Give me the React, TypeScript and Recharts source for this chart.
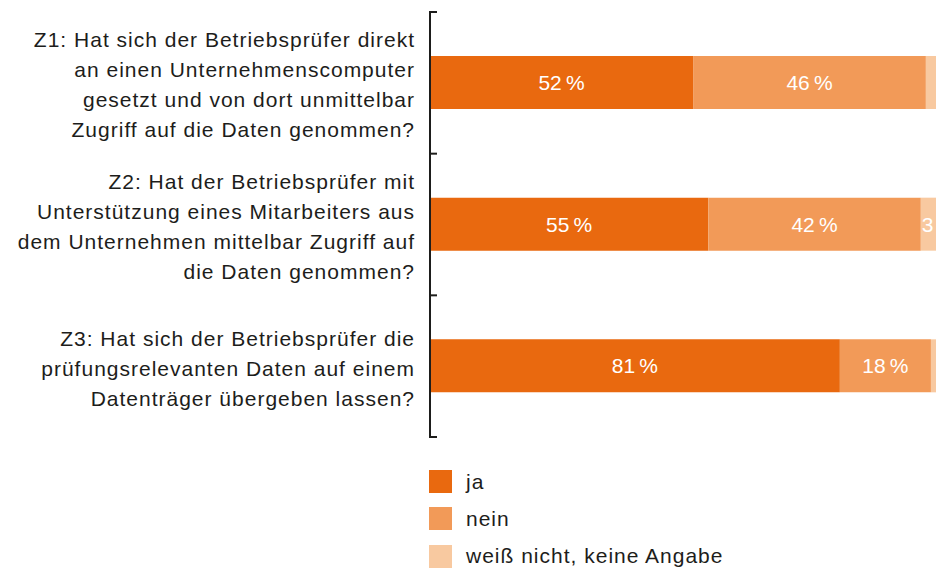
import { BarChart, Bar, XAxis, YAxis, Legend, LabelList } from "recharts";

const questions = [
  "Z1: Hat sich der Betriebsprüfer direkt\nan einen Unternehmenscomputer\ngesetzt und von dort unmittelbar\nZugriff auf die Daten genommen?",
  "Z2: Hat der Betriebsprüfer mit\nUnterstützung eines Mitarbeiters aus\ndem Unternehmen mittelbar Zugriff auf\ndie Daten genommen?",
  "Z3: Hat sich der Betriebsprüfer die\nprüfungsrelevanten Daten auf einem\nDatenträger übergeben lassen?",
];
const ja = [52, 55, 81];
const nein = [46, 42, 18];
const weissNicht = [2, 3, 1];

const seriesNames = ["ja", "nein", "weiß nicht, keine Angabe"];
const colors = ["#E9690F", "#F29A58", "#F8C9A0"];

const data = questions.map((q, i) => ({
  q,
  ja: ja[i],
  nein: nein[i],
  wn: weissNicht[i],
}));

const FONT = '"Liberation Sans", Arial, sans-serif';
const TEXT = "#1d1d1b";
const FS = 21;
const LS = 1;

const QuestionTick = (props: any) => {
  const { x, y, payload, index, visibleTicksCount } = props;
  const lines = String(payload.value).split("\n");
  const half = payload.offset || 71;
  const ax = x + 15;
  const top = y + 2 - ((lines.length - 1) * 30) / 2;
  return (
    <g>
      <text x={x} y={top} textAnchor="end" fontSize={FS} letterSpacing={LS} fill={TEXT} fontFamily={FONT}>
        {lines.map((l, i) => (
          <tspan key={i} x={x} y={top + i * 30} dy="0.36em">
            {l}
          </tspan>
        ))}
      </text>
      <line x1={ax - 1} x2={ax + 7} y1={y - half} y2={y - half} stroke={TEXT} strokeWidth={2} />
      {index === visibleTicksCount - 1 && (
        <line x1={ax - 1} x2={ax + 7} y1={y + half} y2={y + half} stroke={TEXT} strokeWidth={2} />
      )}
    </g>
  );
};

const pct = (v: any) => `${v}\u202F%`;

const SmallLabel = (props: any) => {
  const { x, y, height, value } = props;
  if (value < 3) return null;
  return (
    <text x={x + 1} y={y + height / 2} dy="0.36em" fill="#fff" fontSize={FS} letterSpacing={LS} fontFamily={FONT}>
      {pct(value)}
    </text>
  );
};

const renderLegend = () => (
  <div style={{ fontFamily: FONT, fontSize: FS, letterSpacing: LS, color: TEXT }}>
    {seriesNames.map((n, i) => (
      <div key={n} style={{ height: 37.3, display: "flex", alignItems: "center" }}>
        <span style={{ width: 23, height: 23, background: colors[i], marginRight: 14, display: "inline-block" }} />
        <span>{n}</span>
      </div>
    ))}
  </div>
);

export default function App() {
  return (
    <div style={{ position: "absolute", left: 0, top: 0 }}>
      <BarChart
        width={946}
        height={575}
        data={data}
        layout="vertical"
        margin={{ top: 12, right: 10, left: 0, bottom: 26 }}
        barSize={53}
      >
        <XAxis type="number" domain={[0, 100]} hide />
        <YAxis
          type="category"
          dataKey="q"
          width={430}
          tickLine={false}
          tickSize={0}
          tickMargin={15}
          axisLine={{ stroke: TEXT, strokeWidth: 2 }}
          tick={<QuestionTick />}
          interval={0}
        />
        <Legend
          content={renderLegend}
          verticalAlign="bottom"
          align="left"
          wrapperStyle={{ left: 429, top: 463, bottom: "auto", width: 400, height: 112 }}
        />
        <Bar dataKey="ja" name="ja" stackId="a" fill={colors[0]} isAnimationActive={false}>
          <LabelList dataKey="ja" position="center" fill="#fff" fontSize={FS} letterSpacing={LS} fontFamily={FONT} formatter={pct} />
        </Bar>
        <Bar dataKey="nein" name="nein" stackId="a" fill={colors[1]} isAnimationActive={false}>
          <LabelList dataKey="nein" position="center" fill="#fff" fontSize={FS} letterSpacing={LS} fontFamily={FONT} formatter={pct} />
        </Bar>
        <Bar dataKey="wn" name="weiß nicht, keine Angabe" stackId="a" fill={colors[2]} isAnimationActive={false}>
          <LabelList dataKey="wn" content={<SmallLabel />} />
        </Bar>
      </BarChart>
    </div>
  );
}
